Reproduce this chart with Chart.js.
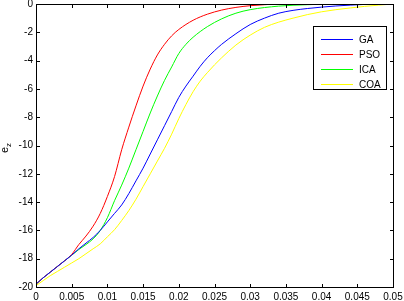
<!DOCTYPE html>
<html><head><meta charset="utf-8">
<script src="https://cdn.jsdelivr.net/npm/chart.js@4/dist/chart.umd.min.js"></script>
<style>html,body{margin:0;padding:0;background:#fff}#wrap{width:404px;height:301px}</style>
</head><body><div id="wrap"><canvas id="c" width="404" height="301"></canvas></div>
<script>
const seriesNames = ['GA', 'PSO', 'ICA', 'COA'];
const seriesColors = ['#0000ff', '#ff0000', '#00ff00', '#ffff00'];
const xTicks = [0, 0.005, 0.01, 0.015, 0.02, 0.025, 0.03, 0.035, 0.04, 0.045, 0.05];
const yTicks = [-20, -18, -16, -14, -12, -10, -8, -6, -4, -2, 0];
const yTitle = 'e';
const yTitleSub = 'z';

const gaX = [0, 0.001, 0.002, 0.003, 0.004, 0.005, 0.006, 0.007, 0.008, 0.009, 0.010, 0.011, 0.012, 0.013, 0.014, 0.015, 0.016, 0.017, 0.018, 0.019, 0.020, 0.021, 0.022, 0.023, 0.024, 0.025, 0.026, 0.028, 0.030, 0.032, 0.034, 0.036, 0.038, 0.040, 0.042, 0.044, 0.046, 0.048, 0.050];
const gaY = [-19.8, -19.35, -18.95, -18.55, -18.15, -17.75, -17.3, -16.9, -16.5, -16.0, -15.4, -14.8, -14.2, -13.4, -12.5, -11.6, -10.6, -9.6, -8.6, -7.6, -6.6, -5.8, -5.1, -4.4, -3.8, -3.3, -2.85, -2.1, -1.45, -1.0, -0.65, -0.45, -0.32, -0.22, -0.14, -0.08, -0.03, 0, 0];

const psoX = [0, 0.001, 0.002, 0.003, 0.004, 0.005, 0.006, 0.007, 0.008, 0.009, 0.010, 0.011, 0.012, 0.013, 0.014, 0.015, 0.016, 0.017, 0.018, 0.019, 0.020, 0.022, 0.024, 0.026, 0.028, 0.030, 0.032, 0.034, 0.050];
const psoY = [-19.8, -19.35, -18.95, -18.55, -18.15, -17.7, -17.0, -16.4, -15.7, -14.8, -13.6, -12.2, -10.3, -8.7, -7.2, -5.8, -4.6, -3.6, -2.85, -2.25, -1.8, -1.15, -0.72, -0.43, -0.24, -0.12, -0.05, 0, 0];

const icaX = [0, 0.001, 0.002, 0.003, 0.004, 0.005, 0.006, 0.007, 0.008, 0.009, 0.010, 0.011, 0.012, 0.013, 0.014, 0.015, 0.016, 0.017, 0.018, 0.019, 0.020, 0.021, 0.022, 0.024, 0.026, 0.028, 0.030, 0.034, 0.038, 0.042, 0.050];
const icaY = [-19.8, -19.35, -18.95, -18.55, -18.15, -17.75, -17.35, -17.0, -16.6, -16.0, -15.1, -13.9, -12.8, -11.6, -10.3, -9.0, -7.7, -6.5, -5.4, -4.45, -3.5, -2.85, -2.35, -1.6, -1.05, -0.65, -0.4, -0.15, -0.05, 0, 0];

const coaX = [0, 0.001, 0.002, 0.003, 0.004, 0.005, 0.006, 0.007, 0.008, 0.009, 0.010, 0.011, 0.012, 0.013, 0.014, 0.015, 0.016, 0.017, 0.018, 0.019, 0.020, 0.021, 0.022, 0.023, 0.024, 0.025, 0.026, 0.028, 0.030, 0.032, 0.034, 0.036, 0.038, 0.040, 0.042, 0.044, 0.046, 0.048, 0.050];
const coaY = [-19.9, -19.55, -19.2, -18.9, -18.6, -18.3, -18.0, -17.65, -17.3, -16.95, -16.45, -15.95, -15.3, -14.6, -13.8, -12.9, -12.0, -11.1, -10.2, -9.2, -8.1, -7.1, -6.2, -5.45, -4.85, -4.3, -3.8, -2.9, -2.2, -1.65, -1.28, -1.0, -0.75, -0.55, -0.4, -0.28, -0.17, -0.08, 0];

const xs = [gaX, psoX, icaX, coaX];
const ys = [gaY, psoY, icaY, coaY];

const FONT = '"Liberation Sans", Arial, sans-serif';
Chart.defaults.font.family = FONT;
Chart.defaults.font.size = 10;
Chart.defaults.color = '#000';

const datasets = seriesNames.map((n, i) => ({
  label: n,
  data: xs[i].map((x, k) => ({x: x, y: ys[i][k]})),
  borderColor: seriesColors[i],
  backgroundColor: seriesColors[i],
  borderWidth: 1,
  pointRadius: 0,
  cubicInterpolationMode: 'monotone',
  fill: false
}));
const fmt = v => String(parseFloat(Number(v).toFixed(4)));

const boxPlugin = {
  id: 'matlabBox',
  afterDraw(chart) {
    const ctx = chart.ctx;
    const a = chart.chartArea;
    const xs_ = chart.scales.x, ys_ = chart.scales.y;
    ctx.save();
    ctx.strokeStyle = '#000';
    ctx.lineWidth = 1;
    const L = Math.round(a.left) + 0.5, R = Math.round(a.right) + 0.5;
    const T = Math.round(a.top) + 0.5, B = Math.round(a.bottom) + 0.5;
    ctx.strokeRect(L, T, R - L, B - T);
    const tl = 3.5;
    ctx.beginPath();
    xTicks.forEach(v => {
      const p = Math.round(xs_.getPixelForValue(v)) + 0.5;
      ctx.moveTo(p, B); ctx.lineTo(p, B - tl);
      ctx.moveTo(p, T); ctx.lineTo(p, T + tl);
    });
    yTicks.forEach(v => {
      const p = Math.round(ys_.getPixelForValue(v)) + 0.5;
      ctx.moveTo(L, p); ctx.lineTo(L + tl, p);
      ctx.moveTo(R, p); ctx.lineTo(R - tl, p);
    });
    ctx.stroke();

    // legend
    const lx = 313.5, ly = 26.5, lw = 73, lh = 63;
    ctx.fillStyle = '#fff';
    ctx.fillRect(lx, ly, lw, lh);
    ctx.strokeStyle = '#000';
    ctx.strokeRect(lx, ly, lw, lh);
    ctx.font = '10px ' + FONT;
    ctx.textBaseline = 'middle';
    ctx.textAlign = 'left';
    chart.data.datasets.forEach((ds, i) => {
      const yy = Math.round(ly + 12 + i * 15) + 0.5;
      ctx.strokeStyle = ds.borderColor;
      ctx.beginPath(); ctx.moveTo(321, yy); ctx.lineTo(353, yy); ctx.stroke();
      ctx.fillStyle = '#000';
      ctx.fillText(ds.label, 359, yy + 0.5);
    });

    // y title
    ctx.translate(8, 153);
    ctx.rotate(-Math.PI / 2);
    ctx.fillStyle = '#000';
    ctx.textBaseline = 'alphabetic';
    ctx.font = '11px ' + FONT;
    ctx.fillText(yTitle, 0, 0);
    const w = ctx.measureText(yTitle).width;
    ctx.font = '8px ' + FONT;
    ctx.fillText(yTitleSub, w, 2.5);
    ctx.restore();
  }
};

new Chart(document.getElementById('c'), {
  type: 'line',
  data: { datasets: datasets },
  options: {
    responsive: false,
    animation: false,
    events: [],
    layout: { padding: { top: 4, right: 11, left: 0, bottom: 0 } },
    plugins: { legend: { display: false }, tooltip: { enabled: false } },
    scales: {
      x: {
        type: 'linear', min: 0, max: 0.05,
        grid: { display: false, drawTicks: false },
        border: { display: false },
        afterBuildTicks: s => { s.ticks = xTicks.map(v => ({value: v})); },
        ticks: { padding: 4, maxRotation: 0, autoSkip: false, callback: v => fmt(v) },
        afterFit: s => { s.height = 14; s.paddingLeft = 0; s.paddingRight = 0; }
      },
      y: {
        type: 'linear', min: -20, max: 0,
        grid: { display: false, drawTicks: false },
        border: { display: false },
        afterBuildTicks: s => { s.ticks = yTicks.map(v => ({value: v})); },
        ticks: { padding: 3, autoSkip: false, callback: v => fmt(v) },
        afterFit: s => { s.width = 36; s.paddingTop = 0; s.paddingBottom = 0; }
      }
    }
  },
  plugins: [boxPlugin]
});
</script>
</body></html>
